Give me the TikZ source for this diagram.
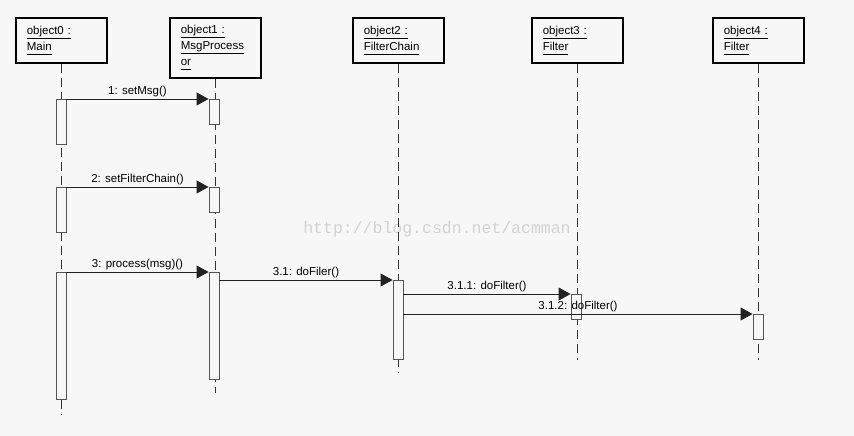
\documentclass[tikz,border=0pt]{standalone}
\usepackage{fontspec}
\setmainfont{Liberation Sans}
\newfontfamily\wmfont{Liberation Mono}
\usetikzlibrary{arrows.meta}
\definecolor{bgc}{HTML}{F7F7F7}
\definecolor{actc}{HTML}{555555}
\definecolor{msgc}{HTML}{222222}
\definecolor{wmc}{HTML}{D2D2D2}
\newcommand\uln[1]{\underline{#1\vphantom{gj}}}
\begin{document}
\begin{tikzpicture}[x=1pt,y=-1pt,
  objbox/.style={draw=black,line width=1.6pt,fill=bgc,anchor=north west,minimum width=91pt,
    text width=69pt,inner xsep=11pt,inner ysep=0pt,align=left,font=\fontsize{11.5pt}{16pt}\selectfont},
  lifeline/.style={draw=black!80,line width=0.8pt,dash pattern=on 9pt off 5pt},
  actbox/.style={draw=actc,line width=0.9pt,fill=bgc,minimum width=10pt,inner sep=0pt,anchor=north},
  msg/.style={draw=msgc,line width=0.9pt,-{Triangle[length=12pt,width=13pt]}},
  msglabel/.style={midway,above,inner sep=1.5pt,font=\fontsize{11.5pt}{13pt}\selectfont}]
\fill[bgc] (0,0) rectangle (854,436);
\useasboundingbox (0,0) rectangle (854,436);

% watermark
\node[text=wmc,font=\wmfont\fontsize{16.5pt}{18pt}\selectfont] (wm) at (437,229) {http://blog.csdn.net/acmman};

% objects
\node[objbox,minimum height=45pt] (o0) at (15,17) {\uln{object0 :}\\\uln{Main}};
\node[objbox,minimum height=60pt] (o1) at (169,17) {\uln{object1 :}\\\uln{MsgProcess}\\\uln{or}};
\node[objbox,minimum height=45pt] (o2) at (352,17) {\uln{object2 :}\\\uln{FilterChain}};
\node[objbox,minimum height=45pt] (o3) at (531,17) {\uln{object3 :}\\\uln{Filter}};
\node[objbox,minimum height=45pt] (o4) at (712,17) {\uln{object4 :}\\\uln{Filter}};

% lifeline ends
\coordinate (e0) at (61,414);
\coordinate (e1) at (214,393);
\coordinate (e2) at (398,373);
\coordinate (e3) at (576,360);
\coordinate (e4) at (758,360);

\draw[lifeline] (o0.south) -- (o0.south |- e0);
\draw[lifeline] (o1.south) -- (o1.south |- e1);
\draw[lifeline] (o2.south) -- (o2.south |- e2);
\draw[lifeline] (o3.south) -- (o3.south |- e3);
\draw[lifeline] (o4.south) -- (o4.south |- e4);

% activations
\node[actbox,minimum height=45pt] (a01) at (61,99) {};
\node[actbox,minimum height=25pt] (a11) at (214,99) {};
\node[actbox,minimum height=45pt] (a02) at (61,187) {};
\node[actbox,minimum height=25pt] (a12) at (214,187) {};
\node[actbox,minimum height=127pt] (a03) at (61,272) {};
\node[actbox,minimum height=107pt] (a13) at (214,272) {};
\node[actbox,minimum height=79pt] (a21) at (398,280) {};
\node[actbox,minimum height=25pt] (a31) at (576,294) {};
\node[actbox,minimum height=25pt] (a41) at (758,314) {};

% messages
\draw[msg] (a01.north east) -- node[msglabel] (m1) {1: setMsg()} (a11.north west);
\draw[msg] (a02.north east) -- node[msglabel] (m2) {2: setFilterChain()} (a12.north west);
\draw[msg] (a03.north east) -- node[msglabel] (m3) {3: process(msg)()} (a13.north west);
\draw[msg] (a13.east |- a21.north) -- node[msglabel] (m31) {3.1: doFiler()} (a21.north west);
\draw[msg] (a21.east |- a31.north) -- node[msglabel] (m311) {3.1.1: doFilter()} (a31.north west);
\draw[msg] (a21.east |- a41.north) -- node[msglabel] (m312) {3.1.2: doFilter()} (a41.north west);
\end{tikzpicture}
\end{document}
